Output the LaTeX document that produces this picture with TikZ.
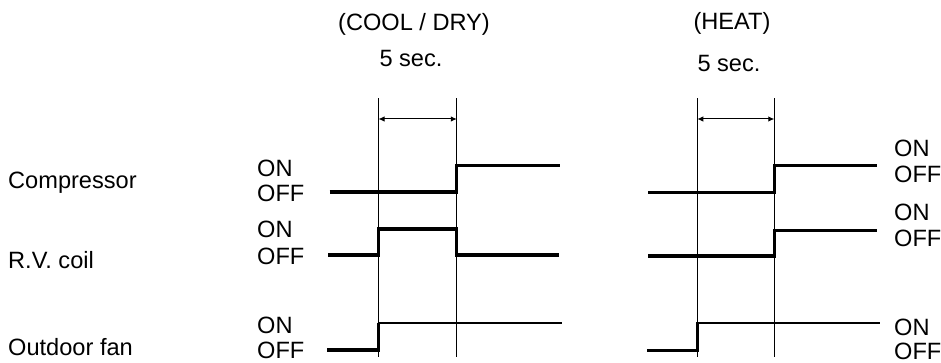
\documentclass[tikz,border=0pt]{standalone}
\usepackage{fontspec}
\setmainfont{Liberation Sans}
\usetikzlibrary{arrows.meta}
\tikzset{
  lbl/.style={inner sep=0pt, anchor=base west, font=\fontsize{23.6}{27}\selectfont},
  ttl/.style={inner sep=0pt, anchor=base, font=\fontsize{23.6}{27}\selectfont},
  sig/.style={line width=3.2pt, line join=miter, line cap=butt},
  sigthin/.style={line width=2.4pt, line cap=butt},
  guide/.style={line width=1pt},
  span/.style={line width=1pt, {Latex[length=6pt,width=5.5pt]}-{Latex[length=6pt,width=5.5pt]}}
}
\begin{document}
\begin{tikzpicture}[x=1pt,y=-1pt]
\useasboundingbox (0,0) rectangle (941,363);
% titles
\node[ttl] (tcool) at (414,30.5) {(COOL / DRY)};
\node[ttl] (scool) at (411,66.5) {5 sec.};
\node[ttl] (theat) at (732,30) {(HEAT)};
\node[ttl] (sheat) at (729,71.5) {5 sec.};
% row names
\node[lbl] (comp) at (8,189) {Compressor};
\node[lbl] (rv) at (8,268) {R.V. coil};
\node[lbl] (fan) at (8,355) {Outdoor fan};
% left ON/OFF labels
\node[lbl] (lon1) at (257,176.5) {ON};
\node[lbl] (loff1) at (257,201.7) {OFF};
\node[lbl] (lon2) at (257,237.5) {ON};
\node[lbl] (loff2) at (257,264.5) {OFF};
\node[lbl] (lon3) at (257,333) {ON};
\node[lbl] (loff3) at (257,358.3) {OFF};
% right ON/OFF labels
\node[lbl] (ron1) at (894,156.7) {ON};
\node[lbl] (roff1) at (894,182.3) {OFF};
\node[lbl] (ron2) at (894,220.7) {ON};
\node[lbl] (roff2) at (894,246.7) {OFF};
\node[lbl] (ron3) at (894,335.5) {ON};
\node[lbl] (roff3) at (894,359) {OFF};
% guide lines
\coordinate (la) at (378.5,98.3);
\coordinate (lb) at (456.8,98.3);
\coordinate (ra) at (697.3,98.3);
\coordinate (rb) at (774.3,98.3);
\draw[guide] (la) -- ++(0,258.4);
\draw[guide] (lb) -- ++(0,258.4);
\draw[guide] (ra) -- ++(0,258.4);
\draw[guide] (rb) -- ++(0,258.4);
\coordinate (laa) at (378.5,119);
\coordinate (lbb) at (456.8,119);
\coordinate (raa) at (697.3,119);
\coordinate (rbb) at (774.3,119);
\draw[span] (laa) -- (lbb);
\draw[span] (raa) -- (rbb);
% COOL/DRY signals
\draw[sig] (329.5,192) -- (456.8,192) -- (456.8,165.5) -- (560,165.5);
\draw[sig] (328,255) -- (378.5,255) -- (378.5,229) -- (456.8,229) -- (456.8,255) -- (559,255);
\draw[sig] (327,350) -- (378.5,350) -- (378.5,323);
\draw[sigthin] (377.5,323) -- (562,323);
% HEAT signals
\draw[sig] (648,192.3) -- (774.3,192.3) -- (774.3,165.5) -- (877,165.5);
\draw[sig] (648,256) -- (774.3,256) -- (774.3,230.5);
\draw[sigthin] (773.3,230.5) -- (877,230.5);
\draw[sig] (647,350.5) -- (697.3,350.5) -- (697.3,323);
\draw[sigthin] (696.3,323) -- (880,323);
\end{tikzpicture}
\end{document}
